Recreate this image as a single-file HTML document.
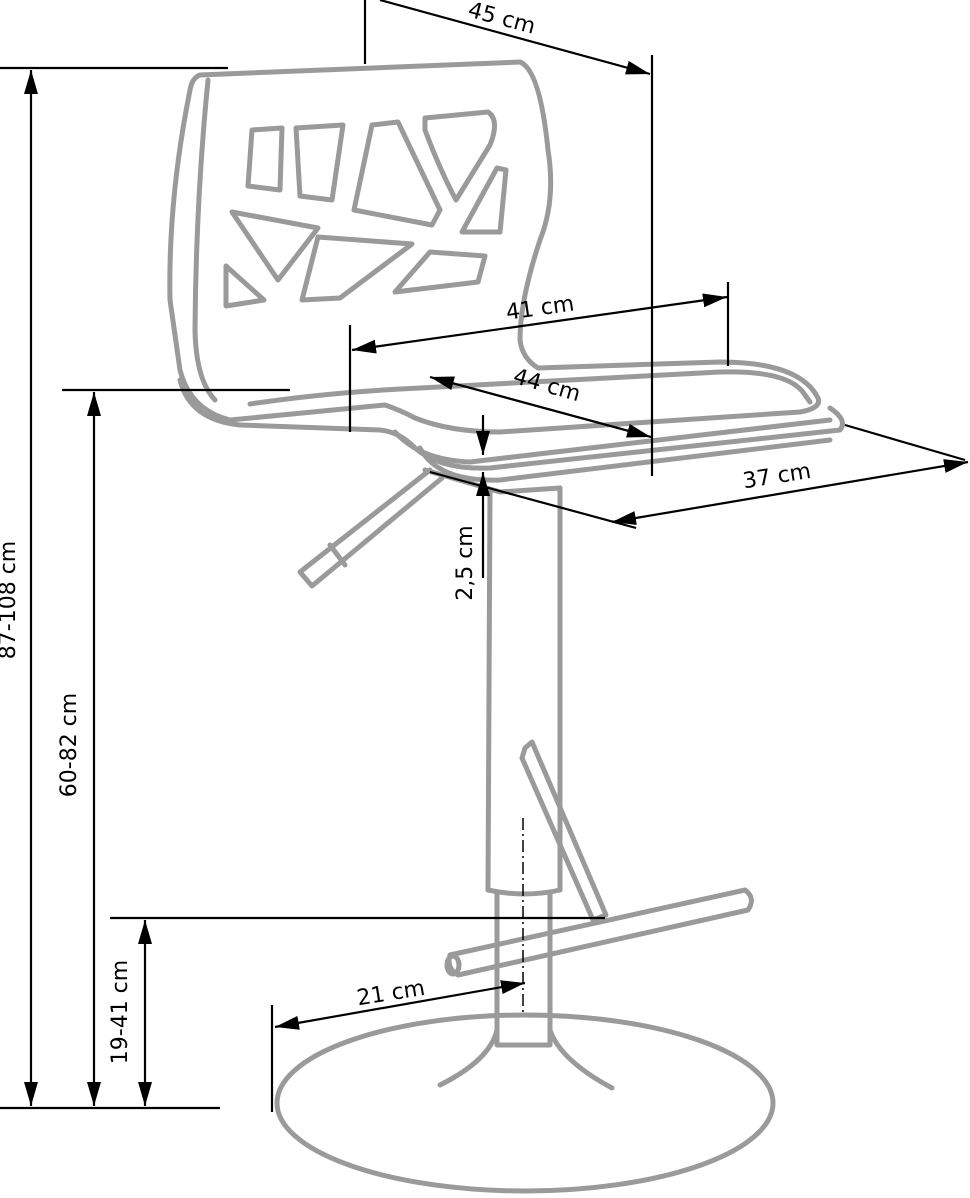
<!DOCTYPE html>
<html><head><style>body{margin:0;background:#fff}svg{display:block}</style></head><body>
<svg width="970" height="1198" viewBox="0 0 970 1198" xmlns="http://www.w3.org/2000/svg" font-family="'DejaVu Sans','Liberation Sans',sans-serif">
<defs>
<marker id="b" viewBox="0 0 10 10" refX="10" refY="5" markerWidth="24" markerHeight="14" preserveAspectRatio="none" orient="auto-start-reverse" markerUnits="userSpaceOnUse"><path d="M0,0L10,5L0,10z" fill="#000"/></marker>
</defs>
<g fill="none" stroke="#9a9a9a" stroke-width="5" stroke-linejoin="round" stroke-linecap="round">
<path d="M200,75 L520,62 Q540,70 548,150 Q556,200 540,240 Q520,300 520,340 Q522,358 538,368 L720,362 Q800,362 818,398 Q822,408 800,412 L500,432 Q450,432 415,418 Q400,410 385,405 L230,420 Q190,410 180,370 L170,300 Q168,200 190,90 Q192,78 200,75 Z"/>
<path d="M208,80 Q196,200 195,330 Q196,380 215,400"/>
<path d="M250,404 Q330,392 420,388 L720,372 Q790,370 805,395 L810,402"/>
<path d="M180,380 Q190,420 240,425 L380,430 Q400,432 415,448 Q440,470 490,468 L840,430 Q848,420 830,408"/>
<path d="M395,432 Q420,460 470,462 L830,420"/>
<path d="M420,448 Q438,482 500,480 L830,440"/>
<path d="M425,470 L500,492 L560,488"/>
<path d="M252,130 L282,128 L280,190 L248,186 Z"/>
<path d="M296,128 L343,125 L332,200 L300,196 Z"/>
<path d="M372,125 L398,122 L440,210 L432,225 L354,210 Z"/>
<path d="M425,118 L488,112 Q500,120 490,145 L456,200 Q440,170 425,130 Z"/>
<path d="M497,168 L506,170 L500,232 L462,232 Z"/>
<path d="M232,212 L318,228 L278,280 Z"/>
<path d="M318,237 L412,244 L340,298 L302,300 Z"/>
<path d="M430,252 L485,256 L478,282 L395,292 Z"/>
<path d="M226,266 L264,300 L226,306 Z"/>
<path d="M430,470 L300,572 L312,586 L442,478"/>
<path d="M330,545 L345,565"/>
<path d="M490,490 L488,890 Q525,898 560,890 L560,488"/>
<path d="M497,892 L497,1045 L550,1045 L550,892"/>
<path d="M497,1030 Q490,1060 440,1085"/>
<path d="M550,1030 Q560,1060 612,1088"/>
<ellipse cx="525" cy="1103" rx="248" ry="88"/>
<path d="M525,748 L532,742 L606,915 L593,920 L522,758 Z"/>
<path d="M450,955 L745,890 Q756,898 748,910 L458,975 Q446,968 450,955 Z"/>
<ellipse cx="453" cy="965" rx="6" ry="9"/>
</g>
<line x1="523" y1="818" x2="523" y2="1015" stroke="#000" stroke-width="1.5" stroke-dasharray="12,4,2,4"/>
<g stroke="#000" stroke-width="2.2" fill="none">
<line x1="0" y1="68" x2="228" y2="68"/>
<line x1="0" y1="1108" x2="220" y2="1108"/>
<line x1="62" y1="390" x2="290" y2="390"/>
<line x1="110" y1="918" x2="605" y2="918"/>
<line x1="31" y1="70" x2="31" y2="1106" marker-start="url(#b)" marker-end="url(#b)"/>
<line x1="94" y1="392" x2="94" y2="1106" marker-start="url(#b)" marker-end="url(#b)"/>
<line x1="145" y1="920" x2="145" y2="1106" marker-start="url(#b)" marker-end="url(#b)"/>
<line x1="365" y1="0" x2="365" y2="64"/>
<line x1="652" y1="55" x2="652" y2="476"/>
<line x1="380" y1="0" x2="650" y2="74" marker-end="url(#b)"/>
<line x1="350" y1="325" x2="350" y2="432"/>
<line x1="728" y1="282" x2="728" y2="366"/>
<line x1="352" y1="350" x2="727" y2="297" marker-start="url(#b)" marker-end="url(#b)"/>
<line x1="430" y1="377" x2="651" y2="437" marker-start="url(#b)" marker-end="url(#b)"/>
<line x1="430" y1="472" x2="636" y2="528"/>
<line x1="845" y1="425" x2="965" y2="460"/>
<line x1="612" y1="522" x2="968" y2="462" marker-start="url(#b)" marker-end="url(#b)"/>
<line x1="483" y1="415" x2="483" y2="455" marker-end="url(#b)"/>
<line x1="483" y1="578" x2="483" y2="472" marker-end="url(#b)"/>
<line x1="272" y1="1005" x2="272" y2="1112"/>
<line x1="275" y1="1027" x2="525" y2="983" marker-start="url(#b)" marker-end="url(#b)"/>
</g>
<g font-size="22" fill="#000">
<text x="500" y="25" transform="rotate(15 500 25)" text-anchor="middle">45 cm</text>
<text x="541" y="315" transform="rotate(-8 541 315)" text-anchor="middle">41 cm</text>
<text x="545" y="392" transform="rotate(16 545 392)" text-anchor="middle">44 cm</text>
<text x="778" y="483" transform="rotate(-9 778 483)" text-anchor="middle">37 cm</text>
<text x="392" y="1000" transform="rotate(-9 392 1000)" text-anchor="middle">21 cm</text>
<text x="472" y="563" transform="rotate(-90 472 563)" text-anchor="middle">2,5 cm</text>
<text x="15" y="600" transform="rotate(-90 15 600)" text-anchor="middle">87-108 cm</text>
<text x="76" y="745" transform="rotate(-90 76 745)" text-anchor="middle">60-82 cm</text>
<text x="127" y="1012" transform="rotate(-90 127 1012)" text-anchor="middle">19-41 cm</text>
</g>
</svg>
</body></html>
